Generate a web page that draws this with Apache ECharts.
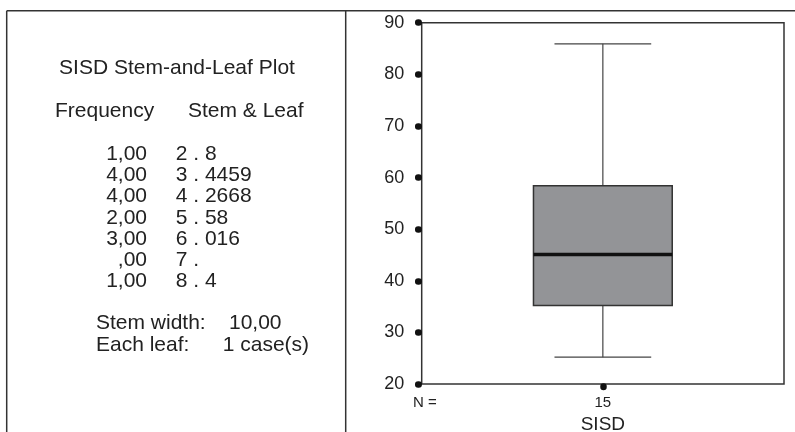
<!DOCTYPE html>
<html>
<head>
<meta charset="utf-8">
<script src="https://cdn.jsdelivr.net/npm/echarts@6/dist/echarts.min.js"></script>
<style>
html,body{margin:0;padding:0;background:#fff;}
#main{width:795px;height:432px;}
</style>
</head>
<body>
<div id="main"></div>
<script>
// ---- data ----
var categories = ['SISD'];
var caseCounts = [15];
// [lower whisker, Q1, median, Q3, upper whisker]
var boxValues = [[25.2, 35.2, 45.1, 58.4, 85.9]];
var yTicks = [20, 30, 40, 50, 60, 70, 80, 90];

var stemTitle = 'SISD Stem-and-Leaf Plot';
var stemHeaderFreq = 'Frequency';
var stemHeaderLeaf = 'Stem & Leaf';
var frequencies = ['1,00', '4,00', '4,00', '2,00', '3,00', ',00', '1,00'];
var stemLeaves = ['2 . 8', '3 . 4459', '4 . 2668', '5 . 58', '6 . 016', '7 .', '8 . 4'];
var stemWidthLabel = 'Stem width:', stemWidthValue = '10,00';
var leafLabel = 'Each leaf:', leafValue = '1 case(s)';

// ---- chart ----
var chart = echarts.init(document.getElementById('main'), null, {renderer: 'canvas'});
var FONT = '"Liberation Sans", Arial, Helvetica, sans-serif';
var TXT = '#222';
var LINE = '#333';

var g = [];
// frame lines
g.push({type: 'line', shape: {x1: 6.7, y1: 10.7, x2: 795, y2: 10.7}, style: {stroke: LINE, lineWidth: 1.5}, z: 10});
g.push({type: 'line', shape: {x1: 6.7, y1: 10.7, x2: 6.7, y2: 432}, style: {stroke: LINE, lineWidth: 1.5}, z: 10});
g.push({type: 'line', shape: {x1: 345.7, y1: 10.7, x2: 345.7, y2: 432}, style: {stroke: LINE, lineWidth: 1.5}, z: 10});

function txt(s, x, y, align, size) {
  return {type: 'text', x: x, y: y, z: 10, style: {text: s, fill: TXT, font: size + 'px ' + FONT, textAlign: align, textVerticalAlign: 'middle'}};
}
g.push(txt(stemTitle, 177, 68, 'center', 21));
g.push(txt(stemHeaderFreq, 55, 111, 'left', 21));
g.push(txt(stemHeaderLeaf, 188, 111, 'left', 21));
var rowY = [154, 175, 196, 218, 239, 260, 281.7];
for (var i = 0; i < frequencies.length; i++) {
  g.push(txt(frequencies[i], 147, rowY[i], 'right', 21));
  g.push(txt(stemLeaves[i], 175.7, rowY[i], 'left', 21));
}
g.push(txt(stemWidthLabel, 96, 323, 'left', 21));
g.push(txt(stemWidthValue, 229, 323, 'left', 21));
g.push(txt(leafLabel, 96, 345, 'left', 21));
g.push(txt(leafValue, 222.7, 345, 'left', 21));
g.push(txt('N =', 413, 403, 'left', 15));

var option = {
  backgroundColor: '#fff',
  animation: false,
  graphic: g,
  grid: {left: 421.7, right: 11, top: 22.7, bottom: 48, containLabel: false, outerBoundsMode: 'none',
         show: true, borderColor: LINE, borderWidth: 1.5, backgroundColor: 'transparent'},
  xAxis: {
    type: 'category',
    data: categories,
    boundaryGap: true,
    offset: 2.5,
    axisLine: {show: false},
    axisTick: {show: true, alignWithLabel: true, length: 0.5, lineStyle: {color: '#111', width: 6.5, cap: 'round'}},
    axisLabel: {margin: 9, fontSize: 15, fontFamily: FONT, color: TXT, formatter: function (v, idx) { return String(caseCounts[idx]); }},
    name: categories[0],
    nameLocation: 'middle',
    nameGap: 23.5,
    nameTextStyle: {fontSize: 19, fontFamily: FONT, color: TXT},
    splitLine: {show: false}
  },
  yAxis: {
    type: 'value',
    min: yTicks[0],
    max: yTicks[yTicks.length - 1],
    interval: 10,
    offset: 3,
    axisLine: {show: false},
    axisTick: {show: true, length: 0.5, lineStyle: {color: '#111', width: 6.5, cap: 'round'}},
    axisLabel: {margin: 14.5, fontSize: 18, fontFamily: FONT, color: TXT},
    splitLine: {show: false}
  },
  series: [{
    type: 'custom',
    data: boxValues.map(function (b, i) { return [i].concat(b); }),
    encode: {x: 0, y: [1, 2, 3, 4, 5]},
    renderItem: function (params, api) {
      var idx = api.value(0);
      var pLow = api.coord([idx, api.value(1)]);
      var pQ1 = api.coord([idx, api.value(2)]);
      var pMed = api.coord([idx, api.value(3)]);
      var pQ3 = api.coord([idx, api.value(4)]);
      var pHigh = api.coord([idx, api.value(5)]);
      var band = api.size([1, 0])[0];
      var bw = band * 0.383;
      var cw = band * 0.267;
      var cx = pMed[0];
      var ls = {stroke: '#444', lineWidth: 1.2};
      return {
        type: 'group',
        children: [
          {type: 'line', shape: {x1: cx, y1: pHigh[1], x2: cx, y2: pQ3[1]}, style: ls},
          {type: 'line', shape: {x1: cx, y1: pQ1[1], x2: cx, y2: pLow[1]}, style: ls},
          {type: 'line', shape: {x1: cx - cw / 2, y1: pHigh[1], x2: cx + cw / 2, y2: pHigh[1]}, style: ls},
          {type: 'line', shape: {x1: cx - cw / 2, y1: pLow[1], x2: cx + cw / 2, y2: pLow[1]}, style: ls},
          {type: 'rect', shape: {x: cx - bw / 2, y: pQ3[1], width: bw, height: pQ1[1] - pQ3[1]}, style: {fill: '#939497', stroke: '#333', lineWidth: 1.5}},
          {type: 'line', shape: {x1: cx - bw / 2, y1: pMed[1], x2: cx + bw / 2, y2: pMed[1]}, style: {stroke: '#111', lineWidth: 3.5}}
        ]
      };
    }
  }]
};
chart.setOption(option);
</script>
</body>
</html>
